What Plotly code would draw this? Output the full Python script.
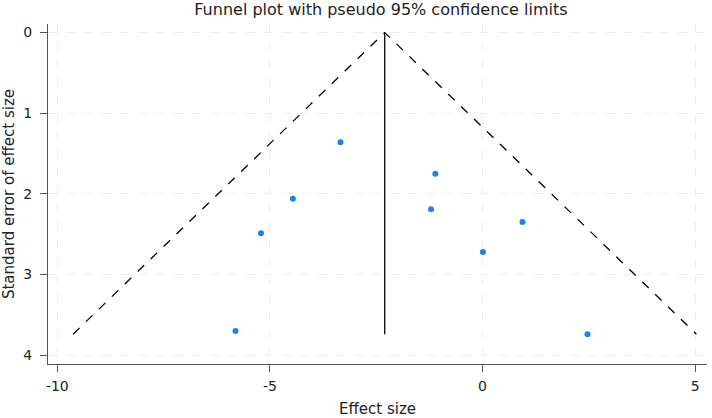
import plotly.graph_objects as go

# 연구별 효과크기와 표준오차 ======================================================
effect_size = [-3.34, -4.46, -5.21, -5.81, -1.11, -1.21, 0.94, 0.01, 2.47]
std_error = [1.36, 2.06, 2.49, 3.70, 1.75, 2.19, 2.35, 2.72, 3.74]

pooled = -2.30    # 통합 효과크기
se_max = 3.74     # 깔때기 바닥
z95 = 1.96

x_ticks = [-10, -5, 0, 5]
x_tick_labels = ['-10', '-5', '0', '5']
y_ticks = [0, 1, 2, 3, 4]

font = "DejaVu Sans"

fig = go.Figure()

# 95% 신뢰한계 (점선)
fig.add_trace(go.Scatter(
    x=[pooled - z95 * se_max, pooled, pooled + z95 * se_max],
    y=[se_max, 0, se_max],
    mode='lines',
    line=dict(color='black', width=1.3, dash='dash'),
    hoverinfo='skip'
))

# 통합 효과크기 수직선
fig.add_trace(go.Scatter(
    x=[pooled, pooled],
    y=[0, se_max],
    mode='lines',
    line=dict(color='black', width=1.3),
    hoverinfo='skip'
))

# 각 연구 점
fig.add_trace(go.Scatter(
    x=effect_size,
    y=std_error,
    mode='markers',
    marker=dict(size=6, color='#1e82eb')
))

axis_common = dict(
    showline=True, linecolor='#555555', linewidth=1.2,
    ticks='outside', ticklen=7, tickcolor='#555555',
    showgrid=True, gridcolor='#ececec', griddash='dash', gridwidth=1,
    zeroline=False,
    tickfont=dict(family=font, size=14, color='#222222'),
)

fig.update_layout(
    width=712, height=418,
    showlegend=False,
    plot_bgcolor='white', paper_bgcolor='white',
    margin=dict(l=48, r=5, t=24, b=54, autoexpand=False),
    title=dict(
        text='Funnel plot with pseudo 95% confidence limits',
        x=0.535, xanchor='center', y=0.990, yanchor='top',
        font=dict(family=font, size=16, color='#222222')
    ),
    xaxis=dict(
        range=[-10.22, 5.28], tickvals=x_ticks, ticktext=x_tick_labels,
        ticklabelstandoff=2,
        title=dict(text='Effect size', standoff=18,
                   font=dict(family=font, size=15, color='#222222')),
        **axis_common
    ),
    yaxis=dict(
        range=[4.11, -0.106], tickvals=y_ticks,
        ticklabelstandoff=5,
        title=dict(text='Standard error of effect size', standoff=8,
                   font=dict(family=font, size=15, color='#222222')),
        **axis_common
    ),
)

# 페이지 기본 여백 제거, 모드바 숨김
fig.write_html("out.html", config={'displayModeBar': False},
               post_script="document.body.style.margin='0';")
